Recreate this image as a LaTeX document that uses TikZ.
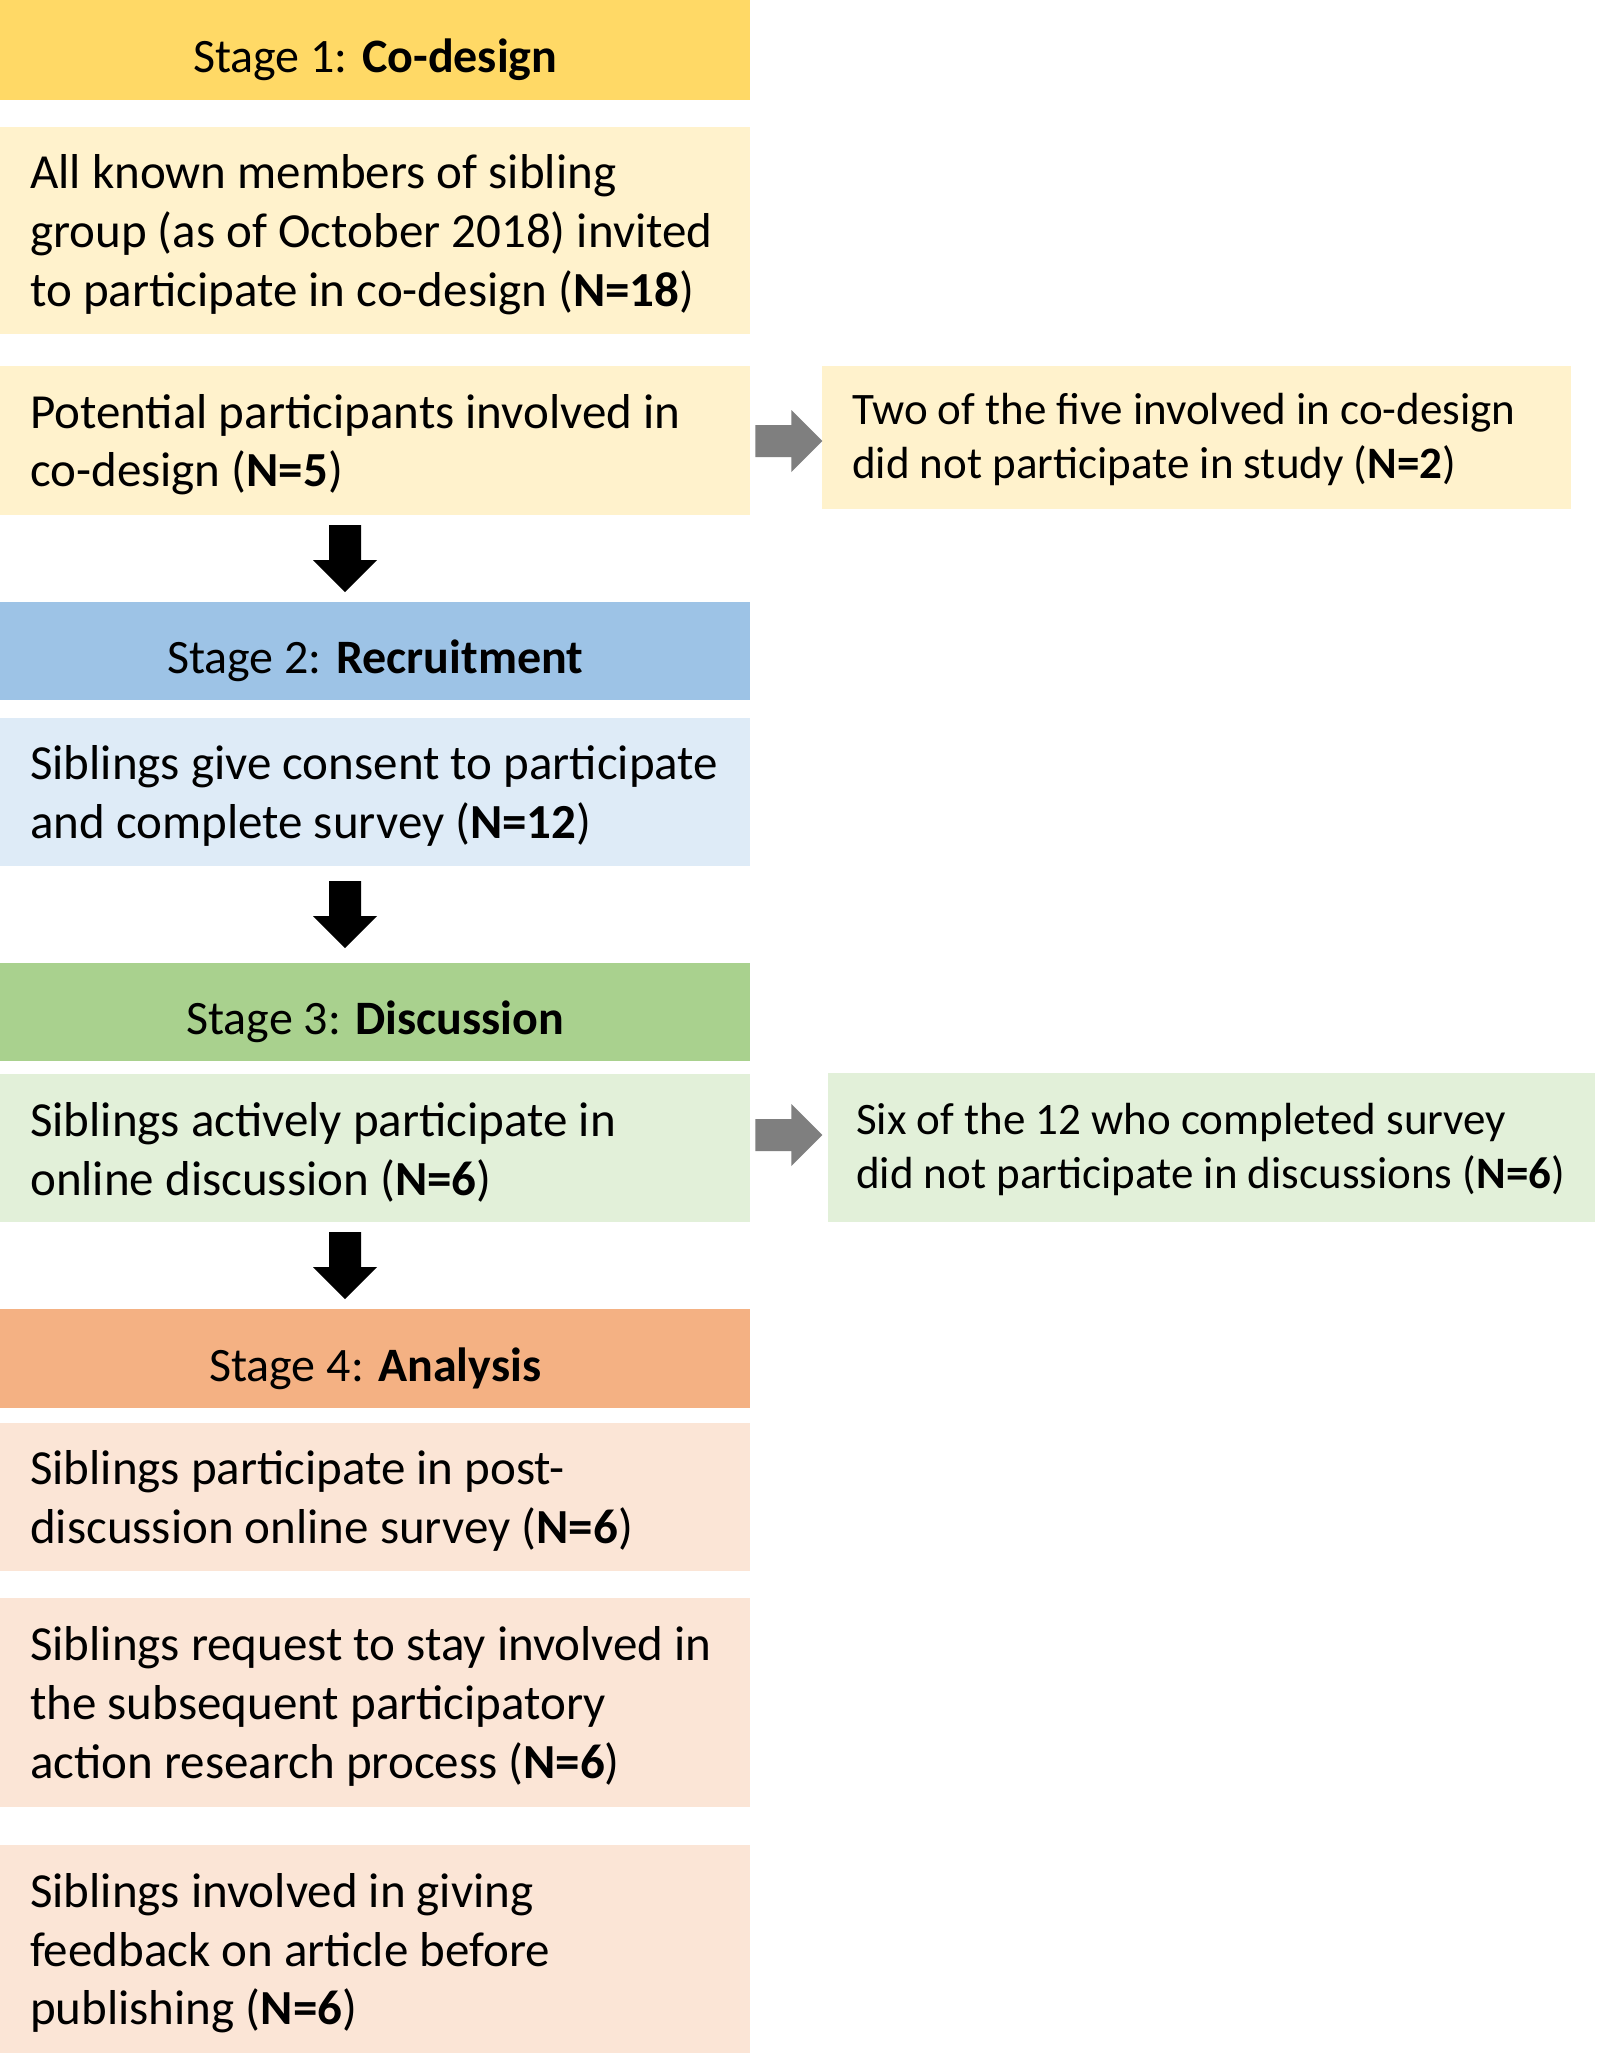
\documentclass[tikz,border=0pt]{standalone}
\usepackage{fontspec}
\setmainfont{Carlito}
\usetikzlibrary{calc}
\definecolor{hA}{HTML}{FFD966}
\definecolor{lA}{HTML}{FFF2CC}
\definecolor{hB}{HTML}{9DC3E6}
\definecolor{lB}{HTML}{DEEBF7}
\definecolor{hC}{HTML}{A9D18E}
\definecolor{lC}{HTML}{E2F0D9}
\definecolor{hD}{HTML}{F4B183}
\definecolor{lD}{HTML}{FBE5D6}
\definecolor{arrgray}{HTML}{7F7F7F}
\newcommand{\downblk}[2]{%
  \coordinate (mid) at ($(#1.south west)!0.5!(#2.north west)$);
  \fill[black] ($(mid)+(329,-33.5)$) -- ($(mid)+(361,-33.5)$) -- ($(mid)+(361,1.5)$)
    -- ($(mid)+(377,1.5)$) -- ($(mid)+(345,33.5)$) -- ($(mid)+(313,1.5)$)
    -- ($(mid)+(329,1.5)$) -- cycle;}
\newcommand{\rightblk}[3]{%
  \coordinate (ra) at ($(#1.north east)+(0,#3)$);
  \fill[arrgray] ($(ra)+(5,-16)$) -- ($(ra)+(41,-16)$) -- ($(ra)+(41,-31)$)
    -- ($(ra)+(72,0)$) -- ($(ra)+(41,31)$) -- ($(ra)+(41,16)$) -- ($(ra)+(5,16)$) -- cycle;}
\begin{document}
\begin{tikzpicture}[x=1pt,y=-1pt,
  hdr/.style={fill=#1, minimum width=750pt, inner sep=0pt, anchor=north west,
    font=\fontsize{48pt}{58.6pt}\selectfont, text=black, text depth=0pt, text height=45pt},
  lbox/.style={fill=#1, minimum width=750pt, inner sep=0pt, anchor=north west},
  sbox/.style={fill=#1, inner sep=0pt, anchor=north west},
  ltext/.style={align=left, anchor=west, inner sep=0pt, yshift=-4pt,
    font=\fontsize{49pt}{58.8pt}\selectfont, text=black},
  stext/.style={align=left, anchor=west, inner sep=0pt, yshift=-2pt,
    font=\fontsize{45pt}{53.7pt}\selectfont, text=black}]
\fill[white] (0,0) rectangle (1601,2053);
\useasboundingbox (0,0) rectangle (1601,2053);

\node[hdr=hA, minimum height=100pt] (h1) at (0,0) {Stage 1: \textbf{Co-design}};
\node[lbox=lA, minimum height=207pt] (b1) at (0,127) {};
\node[ltext] (t1) at ($(b1.west)+(30,0)$)
  {All known members of sibling\\group (as of October 2018) invited\\to participate in co-design (\textbf{N=18})};
\node[lbox=lA, minimum height=149pt] (b2) at (0,366) {};
\node[ltext] (t2) at ($(b2.west)+(30,0)$)
  {Potential participants involved in\\co-design (\textbf{N=5})};
\node[sbox=lA, minimum width=749pt, minimum height=143pt] (s1) at (822,366) {};
\node[stext] (ts1) at ($(s1.west)+(30,0)$)
  {Two of the five involved in co-design\\did not participate in study (\textbf{N=2})};

\node[hdr=hB, minimum height=98pt] (h2) at (0,602) {Stage 2: \textbf{Recruitment}};
\node[lbox=lB, minimum height=148pt] (b3) at (0,718) {};
\node[ltext] (t3) at ($(b3.west)+(30,0)$)
  {Siblings give consent to participate\\and complete survey (\textbf{N=12})};

\node[hdr=hC, minimum height=98pt] (h3) at (0,963) {Stage 3: \textbf{Discussion}};
\node[lbox=lC, minimum height=148pt] (b4) at (0,1074) {};
\node[ltext] (t4) at ($(b4.west)+(30,0)$)
  {Siblings actively participate in\\online discussion (\textbf{N=6})};
\node[sbox=lC, minimum width=767pt, minimum height=149pt] (s2) at (828,1073) {};
\node[stext] (ts2) at ($(s2.west)+(28,0)$)
  {Six of the 12 who completed survey\\did not participate in discussions (\textbf{N=6})};

\node[hdr=hD, minimum height=99pt] (h4) at (0,1309) {Stage 4: \textbf{Analysis}};
\node[lbox=lD, minimum height=148pt] (b5) at (0,1423) {};
\node[ltext] (t5) at ($(b5.west)+(30,0)$)
  {Siblings participate in post-\\discussion online survey (\textbf{N=6})};
\node[lbox=lD, minimum height=209pt] (b6) at (0,1598) {};
\node[ltext] (t6) at ($(b6.west)+(30,0)$)
  {Siblings request to stay involved in\\the subsequent participatory\\action research process (\textbf{N=6})};
\node[lbox=lD, minimum height=208pt] (b7) at (0,1845) {};
\node[ltext] (t7) at ($(b7.west)+(30,0)$)
  {Siblings involved in giving\\feedback on article before\\publishing (\textbf{N=6})};

\downblk{b2}{h2}
\downblk{b3}{h3}
\downblk{b4}{h4}
\rightblk{b2}{s1}{75}
\rightblk{b4}{s2}{61}
\end{tikzpicture}
\end{document}
